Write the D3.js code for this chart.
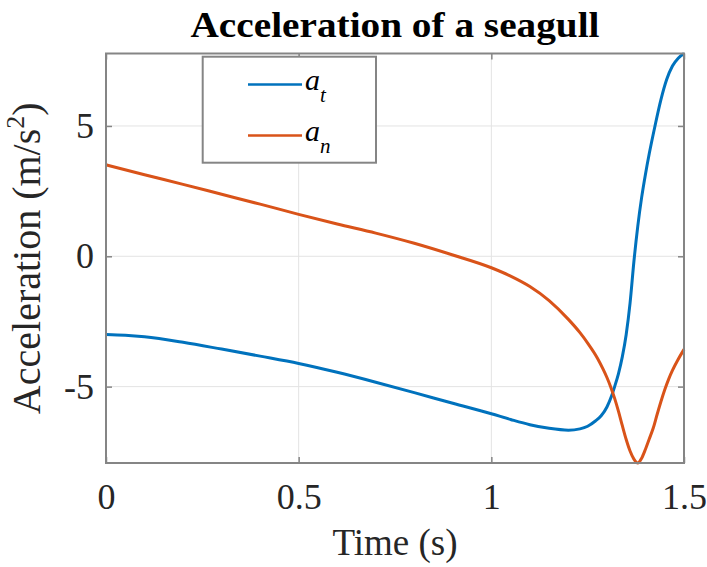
<!DOCTYPE html>
<html>
<head>
<meta charset="utf-8">
<script src="https://cdn.jsdelivr.net/npm/d3@7"></script>
<style>
  html, body { margin: 0; padding: 0; background: #fff; }
  svg { display: block; }
  text { font-family: "Liberation Serif", "Times New Roman", serif; }
</style>
</head>
<body>
<svg id="chart" width="707" height="567"></svg>
<script>
// Tangential acceleration a_t (m/s^2) sampled over time (s)
const timeT = [0, 0.05, 0.1, 0.2, 0.3, 0.4, 0.5, 0.6, 0.7, 0.8, 0.9, 1.0, 1.05, 1.1, 1.15, 1.2, 1.23, 1.25, 1.27, 1.285, 1.3, 1.312, 1.32, 1.33, 1.34, 1.35, 1.36, 1.37, 1.38, 1.39, 1.4, 1.41, 1.425, 1.44, 1.455, 1.47, 1.485, 1.5];
const accelT = [-3.00, -3.03, -3.09, -3.30, -3.56, -3.83, -4.11, -4.45, -4.83, -5.23, -5.64, -6.04, -6.26, -6.46, -6.60, -6.67, -6.62, -6.52, -6.32, -6.12, -5.78, -5.36, -5.0, -4.5, -3.85, -3.0, -1.8, -0.2, 1.15, 2.25, 3.15, 3.95, 5.02, 6.0, 6.78, 7.3, 7.6, 7.78];

// Normal acceleration a_n (m/s^2) sampled over time (s)
const timeN = [0, 0.1, 0.2, 0.3, 0.4, 0.5, 0.6, 0.7, 0.8, 0.9, 1.0, 1.05, 1.1, 1.15, 1.2, 1.23, 1.25, 1.275, 1.29, 1.3, 1.31, 1.32, 1.33, 1.34, 1.35, 1.36, 1.37, 1.38, 1.39, 1.4, 1.41, 1.42, 1.43, 1.44, 1.45, 1.46, 1.47, 1.485, 1.5];
const accelN = [3.51, 3.13, 2.76, 2.38, 2.00, 1.61, 1.24, 0.89, 0.50, 0.05, -0.44, -0.76, -1.16, -1.70, -2.42, -2.93, -3.33, -3.90, -4.33, -4.65, -5.02, -5.45, -5.95, -6.50, -7.03, -7.47, -7.78, -7.93, -7.75, -7.40, -7.00, -6.60, -6.08, -5.58, -5.12, -4.72, -4.38, -3.95, -3.57];

const xTicks = [0, 0.5, 1, 1.5];
const xTickLabels = ["0", "0.5", "1", "1.5"];
const yTicks = [-5, 0, 5];
const yTickLabels = ["-5", "0", "5"];

const seriesSubscripts = ["t", "n"];
const seriesColors = ["#0072BD", "#D95319"];

const W = 707, H = 567;
const margin = { left: 106, right: 23, top: 53.5, bottom: 104 };
const plotW = W - margin.left - margin.right;
const plotH = H - margin.top - margin.bottom;
const serif = "'Liberation Serif', 'Times New Roman', serif";

const svg = d3.select("#chart");

const series = [
  timeT.map((t, i) => ({ t, v: accelT[i] })),
  timeN.map((t, i) => ({ t, v: accelN[i] }))
];

const x = d3.scaleLinear().domain([0, 1.5]).range([margin.left, margin.left + plotW]);
const y = d3.scaleLinear()
  .domain(d3.extent(accelT.concat(accelN)))
  .range([margin.top + plotH, margin.top]);

const axisColor = "#858585";
const gridColor = "#e3e3e3";

// Grid lines
const grid = svg.append("g");
grid.selectAll(".gx").data(xTicks).join("line")
  .attr("x1", d => x(d)).attr("x2", d => x(d))
  .attr("y1", margin.top).attr("y2", margin.top + plotH)
  .attr("stroke", gridColor).attr("stroke-width", 1);
grid.selectAll(".gy").data(yTicks).join("line")
  .attr("x1", margin.left).attr("x2", margin.left + plotW)
  .attr("y1", d => y(d)).attr("y2", d => y(d))
  .attr("stroke", gridColor).attr("stroke-width", 1);

// Curves
const line = d3.line().x(d => x(d.t)).y(d => y(d.v)).curve(d3.curveMonotoneX);
svg.append("g").selectAll("path").data(series).join("path")
  .attr("d", line)
  .attr("fill", "none")
  .attr("stroke", (d, i) => seriesColors[i])
  .attr("stroke-width", 3)
  .attr("stroke-linejoin", "round");

// Axes with inward ticks on all four sides
const fontSize = 36;
function styleAxis(g) {
  g.select(".domain").remove();
  g.attr("font-family", serif);
  g.selectAll(".tick line").attr("stroke", axisColor).attr("stroke-width", 1.5);
  g.selectAll(".tick text").attr("fill", "#262626")
    .attr("font-size", fontSize).attr("font-family", serif);
}
svg.append("g").attr("transform", `translate(0,${margin.top + plotH})`)
  .call(d3.axisBottom(x).tickValues(xTicks).tickFormat((d, i) => xTickLabels[i]).tickSize(-6).tickPadding(20.5))
  .call(styleAxis);
svg.append("g").attr("transform", `translate(0,${margin.top})`)
  .call(d3.axisTop(x).tickValues(xTicks).tickFormat("").tickSize(-6))
  .call(styleAxis);
svg.append("g").attr("transform", `translate(${margin.left},0)`)
  .call(d3.axisLeft(y).tickValues(yTicks).tickFormat((d, i) => yTickLabels[i]).tickSize(-6).tickPadding(12))
  .call(styleAxis);
svg.append("g").attr("transform", `translate(${margin.left + plotW},0)`)
  .call(d3.axisRight(y).tickValues(yTicks).tickFormat("").tickSize(-6))
  .call(styleAxis);

// Axes box
svg.append("rect")
  .attr("x", margin.left).attr("y", margin.top)
  .attr("width", plotW).attr("height", plotH)
  .attr("fill", "none").attr("stroke", axisColor).attr("stroke-width", 2);

// Title
svg.append("text")
  .attr("x", margin.left + plotW / 2).attr("y", 37)
  .attr("text-anchor", "middle")
  .attr("font-family", serif)
  .attr("font-size", 36).attr("font-weight", "bold").attr("fill", "#000")
  .attr("textLength", 409).attr("lengthAdjust", "spacingAndGlyphs")
  .text("Acceleration of a seagull");

// X label
svg.append("text")
  .attr("x", margin.left + plotW / 2).attr("y", 555)
  .attr("text-anchor", "middle")
  .attr("font-family", serif)
  .attr("font-size", 37).attr("fill", "#262626")
  .text("Time (s)");

// Y label with superscript
const yl = svg.append("text")
  .attr("transform", `translate(40,${margin.top + plotH / 2}) rotate(-90)`)
  .attr("text-anchor", "middle")
  .attr("font-family", serif)
  .attr("font-size", 40).attr("fill", "#262626");
yl.append("tspan").text("Acceleration (m/s");
yl.append("tspan").attr("font-size", 26).attr("dy", -16).text("2");
yl.append("tspan").attr("dy", 16).text(")");

// Legend
const legend = svg.append("g");
legend.append("rect")
  .attr("x", 202.7).attr("y", 56.7).attr("width", 173.3).attr("height", 106)
  .attr("fill", "#fff").attr("stroke", axisColor).attr("stroke-width", 2);
const rowY = [84.5, 135.5];
seriesSubscripts.forEach((s, i) => {
  legend.append("line")
    .attr("x1", 248).attr("x2", 302)
    .attr("y1", rowY[i]).attr("y2", rowY[i])
    .attr("stroke", seriesColors[i]).attr("stroke-width", 2.5);
  const t = legend.append("text")
    .attr("x", 305).attr("y", rowY[i] + 5.5)
    .attr("font-family", serif)
    .attr("font-size", 30).attr("font-style", "italic").attr("fill", "#000");
  t.append("tspan").text("a");
  t.append("tspan").attr("font-size", 21).attr("dy", 12).text(s);
});
</script>
</body>
</html>
